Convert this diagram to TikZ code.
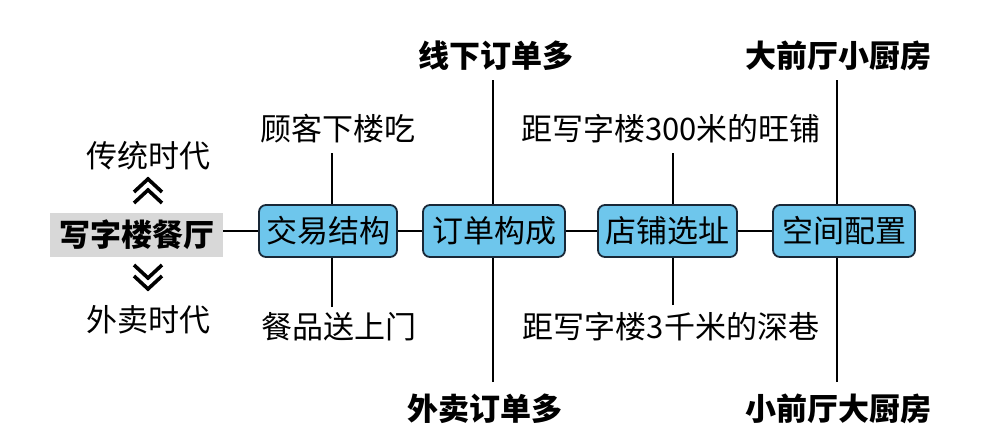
\documentclass[tikz,border=0pt]{standalone}
\usepackage{fontspec}
\newfontfamily\cjk{Noto Sans CJK SC}
\definecolor{boxblue}{RGB}{110,198,236}
\definecolor{boxedge}{RGB}{25,40,55}
\definecolor{graybg}{RGB}{216,216,216}
\tikzset{
  lbl/.style={inner sep=0pt, font=\cjk\fontsize{31}{31}\selectfont},
  blbl/.style={inner sep=0pt, font=\cjk\bfseries\fontsize{31}{31}\selectfont},
  topic/.style={draw=boxedge, line width=1.8pt, fill=boxblue, rounded corners=7pt,
    minimum height=52pt, inner sep=0pt, font=\cjk\fontsize{31}{31}\selectfont},
  conn/.style={line width=2.4pt, black},
  chev/.style={line width=3.6pt, black, line cap=butt, line join=miter}
}
\begin{document}
\begin{tikzpicture}[x=1pt,y=-1pt]
\useasboundingbox (0,0) rectangle (984,444);
% left part
\node[fill=graybg, minimum width=173pt, minimum height=44pt, inner sep=0pt,
  font=\cjk\bfseries\fontsize{31}{31}\selectfont] (src) at (136.5,235) {写字楼餐厅};
\node[lbl] (trad) at (148,156) {传统时代};
\node[lbl] (take) at (148,320) {外卖时代};
% chevrons
\draw[chev] (134,192) -- (148,179) -- (162,192);
\draw[chev] (134,203) -- (148,190) -- (162,203);
\draw[chev] (134,265) -- (148,278) -- (162,265);
\draw[chev] (134,276) -- (148,289) -- (162,276);
% topic boxes
\node[topic, minimum width=138pt] (b1) at (328,231) {交易结构};
\node[topic, minimum width=142pt] (b2) at (494,231) {订单构成};
\node[topic, minimum width=139pt] (b3) at (667.5,231) {店铺选址};
\node[topic, minimum width=142pt] (b4) at (844,231) {空间配置};
% main line
\draw[conn] (src.east |- b1.west) -- (b1.west);
\draw[conn] (b1.east) -- (b2.west);
\draw[conn] (b2.east) -- (b3.west);
\draw[conn] (b3.east) -- (b4.west);
% labels
\node[lbl] (t1) at (338,129) {顾客下楼吃};
\node[lbl] (d1) at (339,327) {餐品送上门};
\node[blbl] (t2) at (496,56) {线下订单多};
\node[blbl] (d2) at (485,409) {外卖订单多};
\node[lbl] (t3) at (671,129) {距写字楼300米的旺铺};
\node[lbl] (d3) at (671,327) {距写字楼3千米的深巷};
\node[blbl] (t4) at (838,56) {大前厅小厨房};
\node[blbl] (d4) at (838,409) {小前厅大厨房};
% line ends
\coordinate (u1) at (332,153);
\coordinate (l1) at (332,307);
\coordinate (u2) at (493,80);
\coordinate (l2) at (493,382);
\coordinate (u3) at (673,153);
\coordinate (l3) at (673,305);
\coordinate (u4) at (837,80);
\coordinate (l4) at (837,382);
\draw[conn] (u1) -- (u1 |- b1.north);
\draw[conn] (l1) -- (l1 |- b1.south);
\draw[conn] (u2) -- (u2 |- b2.north);
\draw[conn] (l2) -- (l2 |- b2.south);
\draw[conn] (u3) -- (u3 |- b3.north);
\draw[conn] (l3) -- (l3 |- b3.south);
\draw[conn] (u4) -- (u4 |- b4.north);
\draw[conn] (l4) -- (l4 |- b4.south);
\end{tikzpicture}
\end{document}
